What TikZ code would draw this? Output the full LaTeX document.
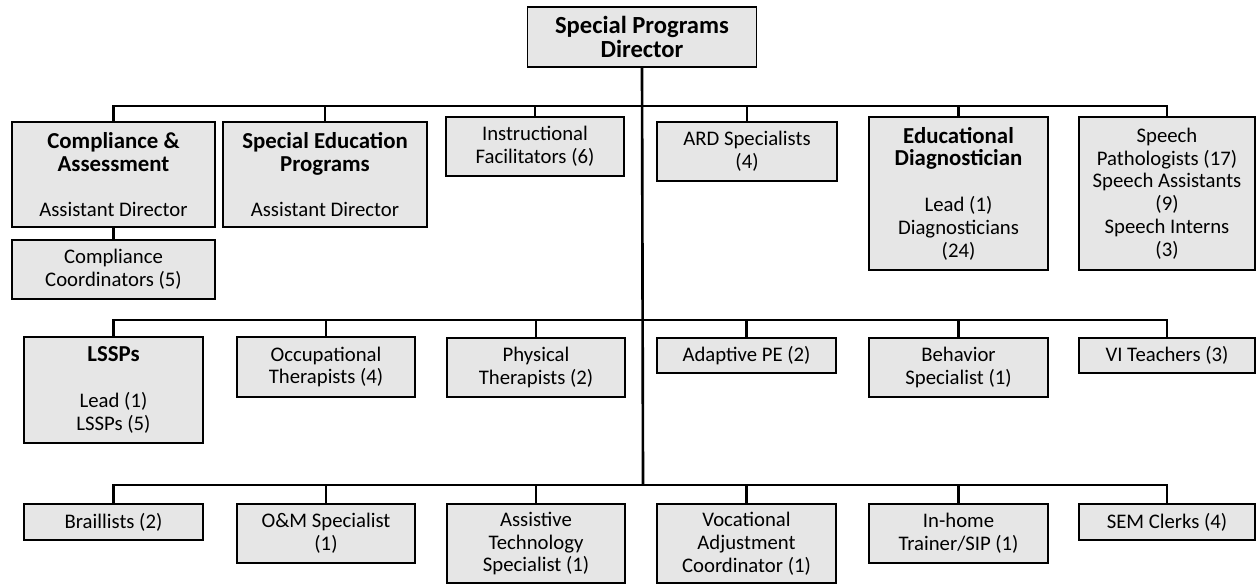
\documentclass[tikz,border=0pt]{standalone}
\usepackage{fontspec}
\setmainfont{Carlito}
\usepackage{tikz}

\definecolor{boxgrey}{RGB}{230,230,230}
\newcommand{\headtxt}[1]{{\fontsize{13}{13.6}\selectfont\bfseries #1}}

\begin{document}
\begin{tikzpicture}[x=0.02cm,y=-0.02cm,
	box/.style={shape=rectangle,draw=black,fill=boxgrey,line width=0.8pt,align=center,inner sep=0pt,font=\fontsize{11.8}{13}\selectfont},
	link/.style={draw=black,line width=1.5pt}]

	\useasboundingbox (0,0) rectangle (1256,586);

	\node[box,minimum width=4.58cm,minimum height=1.2cm,font=\fontsize{14}{13.6}\selectfont\bfseries] (dir) at (642,37) {Special Programs\\Director};

	\node[box,minimum width=4.06cm,minimum height=2.1cm]  (cmp) at (113.5,174.5) {\headtxt{Compliance \&}\\\headtxt{Assessment}\\[13pt]Assistant Director};
	\node[box,minimum width=4.06cm,minimum height=1.18cm] (cco) at (113.5,269.5) {Compliance\\Coordinators (5)};
	\node[box,minimum width=4.08cm,minimum height=2.1cm]  (sep) at (325,174.5)   {\headtxt{Special Education}\\\headtxt{Programs}\\[13pt]Assistant Director};
	\node[box,minimum width=3.56cm,minimum height=1.18cm] (inf) at (535,146.5)   {Instructional\\Facilitators (6)};
	\node[box,minimum width=3.6cm,minimum height=1.18cm]  (ard) at (747,151.5)   {ARD Specialists\\(4)};
	\node[box,minimum width=3.58cm,minimum height=3.06cm] (edd) at (958.5,193.5) {\headtxt{Educational}\\\headtxt{Diagnostician}\\[13pt]Lead (1)\\Diagnosticians\\(24)};
	\node[box,minimum width=3.52cm,minimum height=3.06cm] (spe) at (1167,193.5)  {Speech\\Pathologists (17)\\Speech Assistants\\(9)\\Speech Interns\\(3)};

	\node[box,minimum width=3.58cm,minimum height=2.12cm] (lss) at (113.5,390)   {\headtxt{LSSPs}\\[13pt]Lead (1)\\LSSPs (5)};
	\node[box,minimum width=3.56cm,minimum height=1.2cm]  (occ) at (326,367)     {Occupational\\Therapists (4)};
	\node[box,minimum width=3.56cm,minimum height=1.18cm] (phy) at (536,367.5)   {Physical\\Therapists (2)};
	\node[box,minimum width=3.58cm,minimum height=0.7cm]  (ape) at (746.5,355.5) {Adaptive PE (2)};
	\node[box,minimum width=3.58cm,minimum height=1.18cm] (beh) at (958.5,367.5) {Behavior\\Specialist (1)};
	\node[box,minimum width=3.52cm,minimum height=0.7cm]  (vit) at (1167,355.5)  {VI Teachers (3)};

	\node[box,minimum width=3.58cm,minimum height=0.72cm] (brl) at (113.5,522)   {Braillists (2)};
	\node[box,minimum width=3.56cm,minimum height=1.18cm] (oms) at (326,533.5)   {O\&M Specialist\\(1)};
	\node[box,minimum width=3.56cm,minimum height=1.58cm] (ats) at (536,543.5)   {Assistive\\Technology\\Specialist (1)};
	\node[box,minimum width=3.58cm,minimum height=1.58cm] (vac) at (746.5,543.5) {Vocational\\Adjustment\\Coordinator (1)};
	\node[box,minimum width=3.58cm,minimum height=1.18cm] (iht) at (958.5,533.5) {In-home\\Trainer/SIP (1)};
	\node[box,minimum width=3.52cm,minimum height=0.72cm] (sem) at (1167,522)    {SEM Clerks (4)};

	\coordinate (b1) at (643,106);
	\coordinate (b2) at (643,320);
	\coordinate (b3) at (643,485);

	\draw[link] (dir.south) -- (b3);
	\draw[link] (cmp.south) -- (cco.north);

	\draw[link] (cmp.north) |- (b1);
	\draw[link] (sep.north) |- (b1);
	\draw[link] (inf.north) |- (b1);
	\draw[link] (ard.north) |- (b1);
	\draw[link] (edd.north) |- (b1);
	\draw[link] (spe.north) |- (b1);

	\draw[link] (lss.north) |- (b2);
	\draw[link] (occ.north) |- (b2);
	\draw[link] (phy.north) |- (b2);
	\draw[link] (ape.north) |- (b2);
	\draw[link] (beh.north) |- (b2);
	\draw[link] (vit.north) |- (b2);

	\draw[link] (brl.north) |- (b3);
	\draw[link] (oms.north) |- (b3);
	\draw[link] (ats.north) |- (b3);
	\draw[link] (vac.north) |- (b3);
	\draw[link] (iht.north) |- (b3);
	\draw[link] (sem.north) |- (b3);
\end{tikzpicture}
\end{document}
